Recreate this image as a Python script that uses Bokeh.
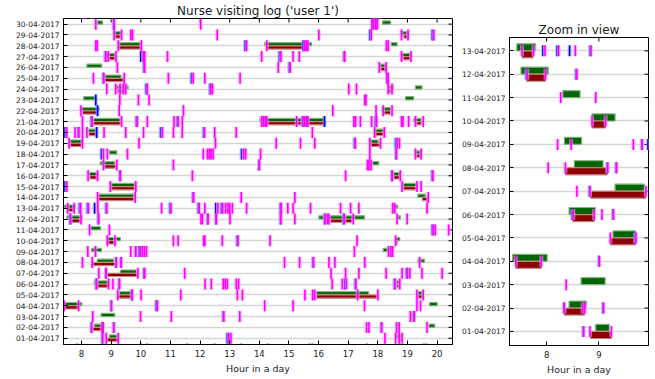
import math
from bokeh.plotting import figure
from bokeh.models import Range1d, FixedTicker, ColumnDataSource, Spacer
from bokeh.layouts import row, column
from bokeh.embed import file_html
from bokeh.resources import INLINE

# ---------------- data ----------------
day_labels = ["01-04-2017", "02-04-2017", "03-04-2017", "04-04-2017", "05-04-2017",
              "06-04-2017", "07-04-2017", "08-04-2017", "09-04-2017", "10-04-2017",
              "11-04-2017", "12-04-2017", "13-04-2017", "14-04-2017", "15-04-2017",
              "16-04-2017", "17-04-2017", "18-04-2017", "19-04-2017", "20-04-2017",
              "21-04-2017", "22-04-2017", "23-04-2017", "24-04-2017", "25-04-2017",
              "26-04-2017", "27-04-2017", "28-04-2017", "29-04-2017", "30-04-2017"]
hour_ticks_main = [8, 9, 10, 11, 12, 13, 14, 15, 16, 17, 18, 19, 20]
hour_ticks_zoom = [8, 9]

# green (upper) bars: day -> [(start_hour, end_hour)]
green_bars = {
    1: [(8.94, 9.20), (18.60, 18.80)],
    2: [(8.43, 8.76), (19.72, 19.92)],
    3: [(8.66, 9.12), (19.12, 19.27)],
    4: [(7.35, 8.01), (19.75, 20.00)],
    5: [(9.27, 9.70), (15.93, 17.69), (19.35, 19.50)],
    6: [(8.43, 8.93), (18.63, 18.74)],
    7: [(9.31, 9.87)],
    8: [(8.53, 9.08), (19.35, 19.57)],
    9: [(8.34, 8.67), (18.18, 18.33)],
    10: [(8.87, 9.31), (18.60, 18.74)],
    11: [(8.31, 8.64)],
    12: [(7.51, 8.03), (16.01, 17.55), (18.65, 18.76)],
    13: [(7.43, 7.79), (18.50, 18.67)],
    14: [(8.57, 9.77), (19.35, 19.60)],
    15: [(8.99, 9.80), (18.85, 19.32)],
    16: [(8.25, 8.54), (18.52, 18.76)],
    17: [(8.63, 9.12), (17.82, 18.03)],
    18: [(8.93, 9.19), (19.27, 19.46)],
    19: [(7.58, 8.03), (17.75, 18.01)],
    20: [(8.22, 8.48), (17.89, 18.22)],
    21: [(8.40, 9.30), (14.02, 16.18), (19.21, 19.46)],
    22: [(7.96, 8.59), (18.14, 18.43)],
    23: [(8.07, 8.46), (18.93, 19.21)],
    24: [(9.15, 9.57), (18.35, 18.52), (19.27, 19.49)],
    25: [(8.76, 9.33)],
    26: [(8.18, 8.68), (18.07, 18.28)],
    27: [(8.83, 9.13), (18.80, 19.10)],
    28: [(9.24, 10.00), (14.18, 15.76), (18.45, 18.65)],
    29: [(9.10, 9.35), (18.76, 19.04)],
    30: [(8.52, 8.71), (18.16, 18.43)],
}

# dark red (lower) bars
red_bars = {
    1: [(8.84, 9.24), (18.71, 18.80)],
    2: [(8.34, 8.73)],
    3: [(19.13, 19.24)],
    4: [(7.41, 7.90)],
    5: [(9.22, 9.70), (15.93, 18.00), (19.35, 19.50)],
    6: [(8.50, 8.91), (18.64, 18.72)],
    7: [(8.84, 9.90)],
    8: [(8.36, 9.16)],
    10: [(8.87, 9.13), (18.60, 18.66)],
    12: [(7.62, 7.98), (16.40, 17.13)],
    13: [(7.53, 7.74), (18.50, 18.57)],
    14: [(8.57, 9.77), (19.50, 19.66)],
    15: [(8.99, 9.80), (18.85, 19.32)],
    16: [(8.28, 8.52), (18.54, 18.74)],
    17: [(8.76, 9.16)],
    18: [(19.30, 19.44)],
    19: [(7.62, 8.00), (17.77, 18.09)],
    20: [(8.25, 8.48), (17.92, 18.20)],
    21: [(8.40, 9.32), (14.25, 16.23), (19.30, 19.46)],
    22: [(8.03, 8.51), (18.18, 18.43)],
    24: [(9.21, 9.41), (18.35, 18.46)],
    25: [(8.76, 9.44)],
    26: [(18.10, 18.25)],
    27: [(8.90, 9.16), (18.85, 19.10)],
    28: [(9.24, 10.00), (14.25, 15.64)],
    29: [(9.12, 9.33), (18.88, 19.01)],
}

# magenta event ticks: day -> hours
magenta_ticks = {
    0: [7.85, 10.22, 11.57, 12.50, 13.38, 14.28, 15.70, 15.80, 17.02, 17.64, 19.55, 19.65],
    1: [8.71, 8.83, 9.24, 12.97, 13.04, 18.24, 18.60, 18.72, 18.82],
    2: [8.34, 8.69, 8.73, 9.09, 17.62, 17.70, 18.13, 18.63, 18.72, 19.66],
    3: [8.375, 9.99, 11.03, 12.80, 13.34, 19.10, 19.23],
    4: [7.41, 7.90, 9.01, 10.56, 14.18, 15.14, 17.55, 19.32, 19.44],
    5: [9.22, 9.71, 10.01, 11.35, 13.26, 13.43, 15.54, 15.80, 15.87, 17.32, 18.00, 19.32, 19.53],
    6: [8.51, 8.91, 9.06, 9.28, 12.17, 12.38, 12.78, 12.85, 12.92, 13.22, 13.30, 16.46, 16.80,
        16.94, 17.26, 18.58, 18.74],
    7: [8.58, 8.83, 9.90, 10.13, 11.48, 16.42, 16.91, 17.36, 18.28, 18.82, 19.00, 19.08, 19.49, 20.17],
    8: [8.03, 8.36, 9.17, 9.34, 14.85, 15.36, 15.83, 16.35, 16.55, 17.56, 19.41],
    9: [8.21, 8.47, 9.66, 9.83, 9.98, 10.05, 10.12, 10.19, 17.21, 18.36, 18.44, 18.50],
    10: [8.87, 9.13, 11.10, 11.26, 12.12, 12.16, 12.75, 13.28, 14.36, 17.30, 18.60],
    11: [8.27, 8.94, 19.88, 19.94, 20.39],
    12: [7.63, 7.98, 8.58, 12.03, 12.08, 12.27, 12.55, 13.01, 14.73, 15.20, 16.22, 16.30, 16.35,
         16.87, 17.17, 18.65, 18.99],
    13: [7.53, 7.75, 7.97, 8.23, 8.55, 8.85, 10.70, 11.02, 11.97, 12.16, 12.60, 12.76, 12.86,
         12.94, 13.00, 13.09, 13.57, 14.74, 14.96, 15.14, 15.73, 16.74, 17.08, 17.36, 18.50,
         18.57, 19.66],
    14: [8.54, 9.81, 11.78, 13.39, 15.20, 19.70],
    15: [7.50, 8.97, 9.83, 18.82, 19.32, 19.46],
    16: [8.22, 8.54, 9.31, 11.74, 16.91, 18.49, 18.76, 19.86],
    17: [8.74, 9.19, 11.10, 14.00, 17.65, 17.70, 17.77],
    18: [8.74, 8.87, 9.55, 12.11, 12.25, 12.31, 12.37, 12.44, 13.47, 13.54, 14.04, 17.73, 18.63,
         19.27, 19.46],
    19: [7.58, 8.03, 9.94, 12.52, 14.57, 15.39, 15.87, 17.24, 17.73, 18.09, 18.65, 18.73],
    20: [7.50, 7.78, 7.91, 8.03, 8.18, 8.76, 9.49, 10.09, 10.73, 11.10, 11.40, 12.15, 12.49,
         13.22, 15.79, 17.89, 18.22],
    21: [8.03, 8.36, 9.35, 9.88, 10.22, 11.12, 11.26, 11.40, 14.08, 14.14, 14.20, 14.25, 15.26,
         15.47, 15.53, 15.60, 15.64, 17.19, 17.25, 17.41, 17.79, 17.96, 18.80, 18.85, 19.04,
         19.27, 19.53],
    22: [7.98, 9.27, 11.44, 16.48, 17.94, 18.18, 18.48],
    23: [9.29, 9.92, 10.28, 17.56, 17.60],
    24: [8.85, 9.15, 9.30, 9.41, 9.49, 10.22, 12.36, 12.42, 17.02, 17.28, 18.35, 18.48],
    25: [8.40, 8.75, 9.44, 10.93, 11.77, 12.16, 13.35, 18.30, 18.35],
    26: [9.21, 10.13, 14.64, 15.04, 18.05, 18.28],
    27: [8.82, 8.90, 9.16, 10.08, 10.13, 10.90, 14.08, 14.73, 15.14, 15.35, 16.88, 18.80, 19.12],
    28: [8.48, 8.53, 9.24, 10.02, 13.57, 14.25, 15.53, 15.58, 15.64, 18.29, 18.35],
    29: [9.10, 9.35, 9.66, 9.72, 12.58, 16.01, 17.78, 18.80, 19.02, 19.89],
    30: [8.48, 9.10, 12.02, 17.80, 17.86, 17.93, 17.98],
    31: [8.03, 8.12, 8.35, 15.10, 17.80, 17.90, 18.00, 18.12],
}

# blue event ticks: day -> hours
blue_ticks = {
    0: [10.00],
    1: [8.70, 12.92],
    2: [8.33, 9.08, 18.12],
    3: [12.78, 19.21],
    4: [9.00, 10.52],
    5: [9.69],
    6: [8.49, 9.27, 16.88, 17.24, 18.56],
    7: [8.82, 10.10, 18.97],
    8: [9.16, 9.33, 15.81],
    9: [9.82, 9.94],
    10: [13.25],
    11: [19.84],
    12: [7.61, 8.56, 12.25, 12.53, 14.71, 16.20, 16.84],
    13: [7.93, 8.20, 8.44, 8.83, 10.98, 11.94, 12.53, 12.72, 14.71],
    14: [11.76],
    15: [7.44],
    16: [9.29, 18.47, 19.83],
    17: [13.99],
    18: [8.67, 13.40, 18.61],
    19: [17.21, 18.60],
    20: [7.44, 7.88, 8.51, 10.67, 12.12],
    21: [8.33, 9.85, 11.23, 15.45, 16.20, 17.92],
    22: [8.54],
    23: [8.48],
    24: [10.18, 12.33],
    25: [8.73, 11.71],
    26: [10.10, 15.01],
    27: [8.80, 10.00, 14.68, 16.86],
    28: [13.52, 15.48],
    29: [17.73, 19.84],
    30: [9.08, 17.83],
}

# ---------------- helpers ----------------
FONT = "DejaVu Sans"


def bar_source(bars, upper):
    left, right, bottom, top = [], [], [], []
    for day, spans in bars.items():
        for s, e in spans:
            left.append(s)
            right.append(e)
            if upper:
                bottom.append(day)
                top.append(day + 0.3)
            else:
                bottom.append(day - 0.3)
                top.append(day)
    return ColumnDataSource(dict(left=left, right=right, bottom=bottom, top=top))


def tick_source(ticks):
    xs, ys = [], []
    for day, hours in ticks.items():
        for h in hours:
            xs.append(h)
            ys.append(day)
    return ColumnDataSource(dict(x=xs, y=ys))


def build(title, xr, yr, xticks, ndays, width, height, mbl, mbr, mbt, mbb):
    p = figure(title=title, x_range=Range1d(*xr), y_range=Range1d(*yr),
               width=width, height=height,
               min_border_left=mbl, min_border_right=mbr,
               min_border_top=mbt, min_border_bottom=mbb,
               output_backend="svg", toolbar_location=None,
               background_fill_color="white", border_fill_color="white")
    p.title.text_font = FONT
    p.title.text_font_size = "12px"
    p.title.text_font_style = "normal"
    p.title.text_color = "#1a1a1a"
    p.title.align = "center"
    p.title.standoff = 2

    p.outline_line_color = "black"
    p.outline_line_width = 1
    p.outline_line_alpha = 1

    day_ticks = list(range(1, ndays + 1))
    p.xaxis.ticker = FixedTicker(ticks=xticks)
    p.yaxis.ticker = FixedTicker(ticks=day_ticks)
    p.yaxis.major_label_overrides = {d: day_labels[d - 1] for d in day_ticks}

    for ax in (p.xaxis[0], p.yaxis[0]):
        ax.major_tick_in = 4
        ax.major_tick_out = 0
        ax.minor_tick_line_color = None
        ax.axis_line_color = "black"
        ax.major_tick_line_color = "black"
        ax.major_label_text_font = FONT
        ax.major_label_text_color = "#222222"
    p.yaxis.major_label_text_font_size = "7.5px"
    p.yaxis.major_label_standoff = 4
    p.xaxis.major_label_text_font_size = "8.5px"
    p.xaxis.major_label_standoff = 5
    p.xaxis.axis_label = "Hour in a day"
    p.xaxis.axis_label_text_font = FONT
    p.xaxis.axis_label_text_font_size = "9.5px"
    p.xaxis.axis_label_text_font_style = "normal"
    p.xaxis.axis_label_text_color = "#222222"
    p.xaxis.axis_label_standoff = 3

    p.xgrid.visible = False
    p.ygrid.ticker = FixedTicker(ticks=day_ticks)
    p.ygrid.grid_line_color = "#d6d6d6"
    p.ygrid.grid_line_width = 1.6

    # inward ticks on the top and right frame edges (half of each mark is clipped by the frame)
    p.scatter(x=xticks, y=[yr[1]] * len(xticks), marker="dash", angle=math.pi / 2, size=8,
              line_color="black", line_width=1)
    p.scatter(x=[xr[1]] * len(day_ticks), y=day_ticks, marker="dash", size=8,
              line_color="black", line_width=1)

    p.quad(left="left", right="right", bottom="bottom", top="top", source=bar_source(green_bars, True),
           fill_color="#006400", line_color="#7fb27f", line_width=1.2)
    p.quad(left="left", right="right", bottom="bottom", top="top", source=bar_source(red_bars, False),
           fill_color="#8b0000", line_color="#c88484", line_width=1.2)

    bsrc = tick_source(blue_ticks)
    msrc = tick_source(magenta_ticks)
    for src, col, halo in ((bsrc, "#0000ff", "#9a9aff"), (msrc, "#ff00ff", "#ff9cff")):
        p.scatter("x", "y", source=src, marker="dash", angle=math.pi / 2, size=11,
                  line_color=halo, line_width=4, line_alpha=0.6)
        p.scatter("x", "y", source=src, marker="dash", angle=math.pi / 2, size=11,
                  line_color=col, line_width=1.6)
    return p


main = build("Nurse visiting log ('user 1')", (7.39, 20.52), (0.42, 30.52), hour_ticks_main, 30,
             458, 378, 63, 6, 18, 34)
zoom = build("Zoom in view", (7.29, 9.95), (0.40, 13.57), hour_ticks_zoom, 13,
             195, 360, 48, 5, 18, 34)

layout = row(main, column(Spacer(width=195, height=19), zoom))
open("out.html", "w").write(file_html(layout, INLINE))
